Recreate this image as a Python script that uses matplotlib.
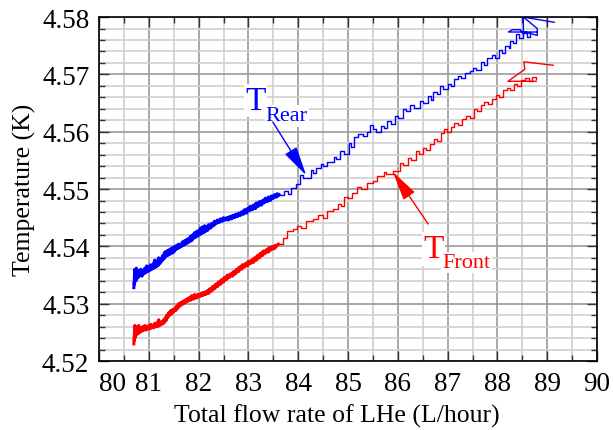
import matplotlib
matplotlib.use("Agg")
import matplotlib.pyplot as plt
from matplotlib.ticker import MultipleLocator

plt.rcParams['font.family'] = ['Liberation Serif', 'DejaVu Serif']

rear_dense_x = [80.70, 80.72, 80.71, 80.73, 80.72, 80.75, 80.74, 80.78, 80.76, 80.80,
                80.79, 80.84, 80.82, 80.88, 80.86, 80.92, 80.90, 80.96, 80.94, 81.00,
                80.98, 81.04, 81.02, 81.08, 81.06, 81.12, 81.10, 81.16, 81.14, 81.20,
                81.18, 81.24, 81.22, 81.28, 81.26, 81.32, 81.30, 81.36, 81.34, 81.40,
                81.38, 81.44, 81.42, 81.48, 81.46, 81.52, 81.50, 81.56, 81.54, 81.60,
                81.58, 81.64, 81.62, 81.68, 81.66, 81.72, 81.70, 81.76, 81.74, 81.80,
                81.78, 81.84, 81.82, 81.88, 81.86, 81.92, 81.90, 81.96, 81.94, 82.00,
                81.98, 82.04, 82.02, 82.08, 82.06, 82.12, 82.10, 82.16, 82.14, 82.20,
                82.18, 82.26, 82.24, 82.32, 82.30, 82.38, 82.36, 82.44, 82.42, 82.50,
                82.48, 82.56, 82.54, 82.62, 82.60, 82.68, 82.66, 82.74, 82.72, 82.80,
                82.78, 82.86, 82.84, 82.92, 82.90, 82.98, 82.96, 83.04, 83.02, 83.10,
                83.08, 83.16, 83.14, 83.22, 83.20, 83.28, 83.26, 83.34, 83.32, 83.40,
                83.38, 83.46, 83.44, 83.52, 83.50, 83.58, 83.56, 83.62]
rear_dense_y = [4.5328, 4.5360, 4.5334, 4.5356, 4.5338, 4.5362, 4.5340, 4.5354, 4.5344, 4.5358,
                4.5346, 4.5360, 4.5350, 4.5358, 4.5348, 4.5362, 4.5352, 4.5366, 4.5354, 4.5364,
                4.5356, 4.5368, 4.5358, 4.5366, 4.5360, 4.5376, 4.5362, 4.5374, 4.5364, 4.5380,
                4.5366, 4.5378, 4.5370, 4.5384, 4.5374, 4.5390, 4.5378, 4.5392, 4.5382, 4.5394,
                4.5384, 4.5396, 4.5386, 4.5398, 4.5388, 4.5400, 4.5390, 4.5402, 4.5394, 4.5404,
                4.5396, 4.5402, 4.5398, 4.5408, 4.5400, 4.5410, 4.5402, 4.5412, 4.5404, 4.5414,
                4.5406, 4.5418, 4.5408, 4.5420, 4.5410, 4.5424, 4.5414, 4.5426, 4.5416, 4.5428,
                4.5418, 4.5432, 4.5420, 4.5434, 4.5422, 4.5436, 4.5424, 4.5434, 4.5426, 4.5438,
                4.5428, 4.5440, 4.5432, 4.5444, 4.5436, 4.5446, 4.5440, 4.5448, 4.5442, 4.5450,
                4.5444, 4.5450, 4.5446, 4.5452, 4.5446, 4.5454, 4.5448, 4.5456, 4.5450, 4.5458,
                4.5452, 4.5460, 4.5454, 4.5464, 4.5456, 4.5466, 4.5458, 4.5470, 4.5462, 4.5472,
                4.5464, 4.5476, 4.5466, 4.5478, 4.5470, 4.5480, 4.5472, 4.5484, 4.5476, 4.5486,
                4.5478, 4.5488, 4.5480, 4.5490, 4.5484, 4.5492, 4.5486, 4.5490]

# T_Rear (blue): quantised staircase after the dense part
rear_x = [83.62, 83.72, 83.80, 83.86, 83.96, 84.04, 84.10, 84.25, 84.30, 84.36,
          84.45, 84.50, 84.58, 84.72, 84.76, 84.84, 84.92, 85.02, 85.06, 85.12,
          85.20, 85.30, 85.38, 85.44, 85.50, 85.56, 85.66, 85.72, 85.78, 85.86,
          85.94, 86.00, 86.10, 86.16, 86.24, 86.32, 86.45, 86.50, 86.60, 86.66,
          86.70, 86.78, 86.84, 86.90, 87.00, 87.06, 87.12, 87.20, 87.26, 87.34,
          87.44, 87.50, 87.56, 87.66, 87.72, 87.80, 87.90, 87.96, 88.04, 88.10,
          88.16, 88.24, 88.26, 88.32, 88.38, 88.44, 88.52, 88.60, 88.66]
rear_y = [4.5490, 4.5496, 4.5492, 4.5502, 4.5508, 4.5524, 4.5519, 4.5533, 4.5528, 4.5536,
          4.5544, 4.5540, 4.5548, 4.5556, 4.5552, 4.5566, 4.5562, 4.5580, 4.5574, 4.5590,
          4.5596, 4.5592, 4.5600, 4.5612, 4.5604, 4.5600, 4.5610, 4.5606, 4.5618, 4.5614,
          4.5628, 4.5624, 4.5640, 4.5636, 4.5646, 4.5642, 4.5654, 4.5650, 4.5662, 4.5656,
          4.5670, 4.5666, 4.5680, 4.5674, 4.5684, 4.5680, 4.5692, 4.5698, 4.5694, 4.5702,
          4.5706, 4.5712, 4.5708, 4.5722, 4.5716, 4.5728, 4.5734, 4.5728, 4.5742, 4.5738,
          4.5750, 4.5746, 4.5758, 4.5754, 4.5770, 4.5764, 4.5772, 4.5766, 4.5774]
rear_tail_x = [88.80, 88.22, 88.30, 88.46, 88.52, 88.52, 88.80, 88.80, 88.56]
rear_tail_y = [4.5774, 4.5774, 4.5778, 4.5778, 4.5770, 4.5800, 4.5780, 4.5768, 4.5774]
rear_end_x = [88.52, 89.14]
rear_end_y = [4.5800, 4.5791]

# T_Front (red): noisy dense start
front_dense_x = [80.70, 80.72, 80.71, 80.73, 80.72, 80.75, 80.74, 80.78, 80.76, 80.80,
                 80.79, 80.84, 80.82, 80.88, 80.86, 80.92, 80.90, 80.96, 80.94, 81.00,
                 80.98, 81.04, 81.02, 81.08, 81.06, 81.12, 81.10, 81.16, 81.14, 81.20,
                 81.18, 81.24, 81.22, 81.28, 81.26, 81.32, 81.30, 81.36, 81.34, 81.40,
                 81.38, 81.44, 81.42, 81.48, 81.46, 81.52, 81.50, 81.56, 81.54, 81.60,
                 81.58, 81.64, 81.62, 81.68, 81.66, 81.72, 81.70, 81.76, 81.74, 81.80,
                 81.78, 81.86, 81.84, 81.92, 81.90, 81.98, 81.96, 82.04, 82.02, 82.10,
                 82.08, 82.16, 82.14, 82.22, 82.20, 82.28, 82.26, 82.34, 82.32, 82.40,
                 82.38, 82.46, 82.44, 82.52, 82.50, 82.58, 82.56, 82.64, 82.62, 82.70,
                 82.68, 82.76, 82.74, 82.82, 82.80, 82.88, 82.86, 82.94, 82.92, 83.00,
                 82.98, 83.06, 83.04, 83.12, 83.10, 83.18, 83.16, 83.24, 83.22, 83.30,
                 83.28, 83.36, 83.34, 83.42, 83.40, 83.48, 83.46, 83.54, 83.52, 83.60]
front_dense_y = [4.5230, 4.5262, 4.5236, 4.5258, 4.5240, 4.5260, 4.5244, 4.5258, 4.5246, 4.5262,
                 4.5248, 4.5258, 4.5250, 4.5260, 4.5252, 4.5262, 4.5254, 4.5260, 4.5254, 4.5262,
                 4.5256, 4.5264, 4.5256, 4.5262, 4.5258, 4.5266, 4.5258, 4.5264, 4.5260, 4.5272,
                 4.5260, 4.5268, 4.5262, 4.5270, 4.5264, 4.5274, 4.5266, 4.5280, 4.5270, 4.5284,
                 4.5276, 4.5288, 4.5280, 4.5290, 4.5282, 4.5292, 4.5286, 4.5296, 4.5288, 4.5300,
                 4.5292, 4.5302, 4.5296, 4.5304, 4.5298, 4.5306, 4.5300, 4.5308, 4.5302, 4.5310,
                 4.5304, 4.5314, 4.5306, 4.5316, 4.5308, 4.5316, 4.5310, 4.5318, 4.5312, 4.5320,
                 4.5314, 4.5322, 4.5316, 4.5326, 4.5318, 4.5330, 4.5322, 4.5334, 4.5326, 4.5338,
                 4.5330, 4.5342, 4.5334, 4.5346, 4.5338, 4.5350, 4.5342, 4.5352, 4.5346, 4.5356,
                 4.5348, 4.5360, 4.5352, 4.5364, 4.5356, 4.5368, 4.5360, 4.5370, 4.5364, 4.5374,
                 4.5366, 4.5376, 4.5370, 4.5380, 4.5372, 4.5384, 4.5376, 4.5388, 4.5380, 4.5392,
                 4.5384, 4.5394, 4.5388, 4.5398, 4.5390, 4.5400, 4.5394, 4.5402, 4.5396, 4.5404]

# T_Front (red): quantised staircase
front_x = [83.60, 83.70, 83.78, 83.90, 83.98, 84.06, 84.16, 84.30, 84.40, 84.50,
           84.58, 84.70, 84.80, 84.86, 84.92, 85.00, 85.08, 85.18, 85.26, 85.38,
           85.50, 85.58, 85.72, 85.76, 85.90, 86.04, 86.10, 86.20, 86.26, 86.36,
           86.42, 86.50, 86.56, 86.64, 86.72, 86.78, 86.86, 86.92, 86.98, 87.06,
           87.12, 87.20, 87.28, 87.36, 87.44, 87.52, 87.58, 87.66, 87.74, 87.82,
           87.90, 87.98, 88.04, 88.12, 88.20, 88.26, 88.34, 88.40, 88.48, 88.56,
           88.64, 88.70, 88.78]
front_y = [4.5404, 4.5414, 4.5426, 4.5430, 4.5436, 4.5432, 4.5444, 4.5448, 4.5454, 4.5450,
           4.5462, 4.5466, 4.5474, 4.5470, 4.5486, 4.5484, 4.5494, 4.5504, 4.5500, 4.5510,
           4.5514, 4.5522, 4.5530, 4.5526, 4.5532, 4.5546, 4.5542, 4.5554, 4.5550, 4.5566,
           4.5562, 4.5572, 4.5568, 4.5578, 4.5588, 4.5584, 4.5598, 4.5604, 4.5600, 4.5608,
           4.5616, 4.5612, 4.5622, 4.5628, 4.5624, 4.5640, 4.5636, 4.5646, 4.5652, 4.5648,
           4.5658, 4.5664, 4.5660, 4.5672, 4.5676, 4.5672, 4.5684, 4.5680, 4.5690, 4.5694,
           4.5688, 4.5696, 4.5692]
front_tail_x = [88.78, 88.21, 88.55, 88.53, 89.12]
front_tail_y = [4.5688, 4.5688, 4.5709, 4.5722, 4.5716]

fig = plt.figure(figsize=(6.13, 4.31), dpi=100)
ax = fig.add_axes([0.1615, 0.160, 0.8125, 0.798])

ax.set_xlim(80, 90)
ax.set_ylim(4.52, 4.58)
ax.xaxis.set_major_locator(MultipleLocator(1))
ax.xaxis.set_minor_locator(MultipleLocator(0.5))
ax.yaxis.set_major_locator(MultipleLocator(0.01))
ax.yaxis.set_minor_locator(MultipleLocator(0.002))
ax.grid(which='major', color='#9a9a9a', lw=1.2, zorder=0)
ax.grid(which='minor', color='#cfcfcf', lw=1.2, zorder=0)
ax.set_axisbelow(True)

ax.tick_params(which='both', direction='in', top=True, right=True, width=1, colors='#333333',
               labelcolor='black')
ax.tick_params(which='major', length=7, labelsize=19.5, pad=7)
ax.tick_params(which='minor', length=4)
for s in ax.spines.values():
    s.set_linewidth(1.2)

ax.plot(rear_dense_x, rear_dense_y, color='blue', lw=2.2)
ax.plot(rear_x, rear_y, color='blue', lw=1.0, drawstyle='steps-post')
ax.plot(rear_tail_x, rear_tail_y, color='blue', lw=1.0)
ax.plot(rear_end_x, rear_end_y, color='blue', lw=1.0)
ax.plot(front_dense_x, front_dense_y, color='red', lw=2.2)
ax.plot(front_x, front_y, color='red', lw=1.0, drawstyle='steps-post')
ax.plot(front_tail_x, front_tail_y, color='red', lw=1.0)

ax.set_xticks(range(80, 91))
ax.set_xticklabels([str(v) for v in range(80, 91)])
ax.get_xticklabels()[0].set_horizontalalignment('left')
ax.set_yticks([4.52, 4.53, 4.54, 4.55, 4.56, 4.57, 4.58])
ax.set_yticklabels(['4.52', '4.53', '4.54', '4.55', '4.56', '4.57', '4.58'])

ax.set_xlabel('Total flow rate of LHe (L/hour)', fontsize=18.5, labelpad=3)
ax.set_ylabel('Temperature (K)', fontsize=18.5, labelpad=4)
ax.xaxis.set_label_coords(0.478, -0.125)

box = dict(facecolor='white', edgecolor='none', pad=1)
ax.text(82.93, 4.5640, 'T', color='blue', fontsize=24, ha='left', va='baseline', bbox=box)
ax.text(83.35, 4.5620, 'Rear', color='blue', fontsize=16, ha='left', va='baseline', bbox=box)
ax.text(86.51, 4.5381, 'T', color='red', fontsize=24, ha='left', va='baseline', bbox=box)
ax.text(86.89, 4.5364, 'Front', color='red', fontsize=16, ha='left', va='baseline', bbox=box)

ax.annotate('', xy=(84.16, 4.5524), xytext=(83.49, 4.5617),
            arrowprops=dict(arrowstyle='-|>,head_length=1.3,head_width=0.3', color='blue',
                            lw=1, mutation_scale=14, shrinkA=0, shrinkB=0))
ax.annotate('', xy=(85.90, 4.5530), xytext=(86.61, 4.5439),
            arrowprops=dict(arrowstyle='-|>,head_length=1.3,head_width=0.3', color='red',
                            lw=1, mutation_scale=14, shrinkA=0, shrinkB=0))

fig.savefig('out.png', dpi=100)
